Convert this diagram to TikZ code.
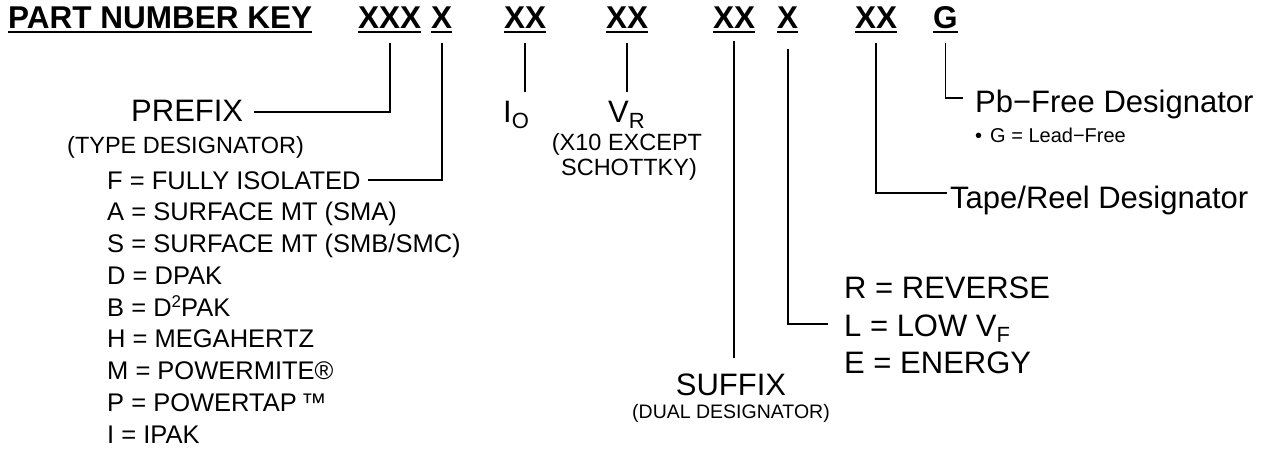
\documentclass[tikz,border=0pt]{standalone}
\usepackage{fontspec}
\setmainfont{Liberation Sans}
\newcommand{\mysub}[1]{\raisebox{-6pt}{\fontsize{22}{22}\selectfont #1}}
\begin{document}
\begin{tikzpicture}[x=1pt,y=-1pt,
  txt/.style={inner sep=0pt, anchor=base west},
  ctxt/.style={inner sep=0pt, anchor=base},
  big/.style={font=\fontsize{31}{31}\selectfont},
  mid/.style={font=\fontsize{25.5}{25.5}\selectfont},
  small/.style={font=\fontsize{23.5}{23.5}\selectfont},
  head/.style={font=\fontsize{31.5}{31.5}\selectfont\bfseries},
  conn/.style={line width=1.6pt},
  ul/.style={line width=2.4pt}]
\useasboundingbox (0,0) rectangle (1273,451);
% heading
\node[txt,head] (title) at (8,28) {PART NUMBER KEY};
\node[txt,head] (k1) at (358,28) {XXX};
\node[txt,head] (k2) at (431,28) {X};
\node[txt,head] (k3) at (504,28) {XX};
\node[txt,head] (k4) at (606,28) {XX};
\node[txt,head] (k5) at (713,28) {XX};
\node[txt,head] (k6) at (777,28) {X};
\node[txt,head] (k7) at (855,28) {XX};
\node[txt,head] (k8) at (933,28) {G};
\foreach \n in {title,k1,k2,k3,k4,k5,k6,k7,k8}
  \draw[ul] ([yshift=-4pt]\n.base west) -- ([yshift=-4pt]\n.base east);
% prefix
\node[txt,big] (prefix) at (131,121) {PREFIX};
\node[txt,small] (typedes) at (67,153) {(TYPE DESIGNATOR)};
\node[txt,mid] (iF) at (107,189) {F = FULLY ISOLATED};
\node[txt,mid] (iA) at (107,220.75) {A = SURFACE MT (SMA)};
\node[txt,mid] (iS) at (107,252.5) {S = SURFACE MT (SMB/SMC)};
\node[txt,mid] (iD) at (107,284.25) {D = DPAK};
\node[txt,mid] (iB) at (107,316) {B = D\raisebox{9pt}{\fontsize{17}{17}\selectfont 2}PAK};
\node[txt,mid] (iH) at (107,347.75) {H = MEGAHERTZ};
\node[txt,mid] (iM) at (107,379.5) {M = POWERMITE®};
\node[txt,mid] (iP) at (107,411.25) {P = POWERTAP\,™};
\node[txt,mid] (iI) at (107,443) {I = IPAK};
\draw[conn] ([yshift=-15pt]k1.base) |- ([xshift=11pt,yshift=9pt]prefix.base east);
\draw[conn] ([yshift=-15pt]k2.base) |- ([xshift=7pt,yshift=9pt]iF.base east);
% Io, VR
\node[txt,big] (io) at (503,122) {I\mysub{O}};
\node[txt,big] (vr) at (608,122) {V\mysub{R}};
\node[ctxt,small] (x10) at (627,150) {(X10 EXCEPT};
\node[ctxt,small] (scho) at (629,175) {SCHOTTKY)};
\draw[conn] ([yshift=-15pt]k3.base) -- ([yshift=-64pt]k3.base);
\draw[conn] ([yshift=-15pt]k4.base) -- ([yshift=-64pt]k4.base);
% suffix
\node[ctxt,big] (suffix) at (731,395) {SUFFIX};
\node[ctxt,font=\fontsize{19.5}{19.5}\selectfont] (dual) at (731,418) {(DUAL DESIGNATOR)};
\draw[conn] ([yshift=-13pt]k5.base) -- ([yshift=-330pt]k5.base);
% R L E
\node[txt,big] (rrev) at (844,298) {R = REVERSE};
\node[txt,big] (llow) at (844,336) {L = LOW V\mysub{F}};
\node[txt,big] (eeng) at (844,373) {E = ENERGY};
\draw[conn] ([yshift=-21pt]k6.base) |- ([xshift=-16pt,yshift=12pt]llow.base west);
% tape/reel
\node[txt,big] (tape) at (950,208) {Tape/Reel Designator};
\draw[conn] ([yshift=-15pt]k7.base) |- ([xshift=-3pt,yshift=15pt]tape.base west);
% Pb-free
\node[txt,big] (pb) at (975,112) {Pb−Free Designator};
\node[txt,font=\fontsize{20}{20}\selectfont] (lead) at (975,142) {•\hspace{8pt}G = Lead−Free};
\draw[conn] ([yshift=-15pt]k8.base) |- ([xshift=-12pt,yshift=14pt]pb.base west);
\end{tikzpicture}
\end{document}
